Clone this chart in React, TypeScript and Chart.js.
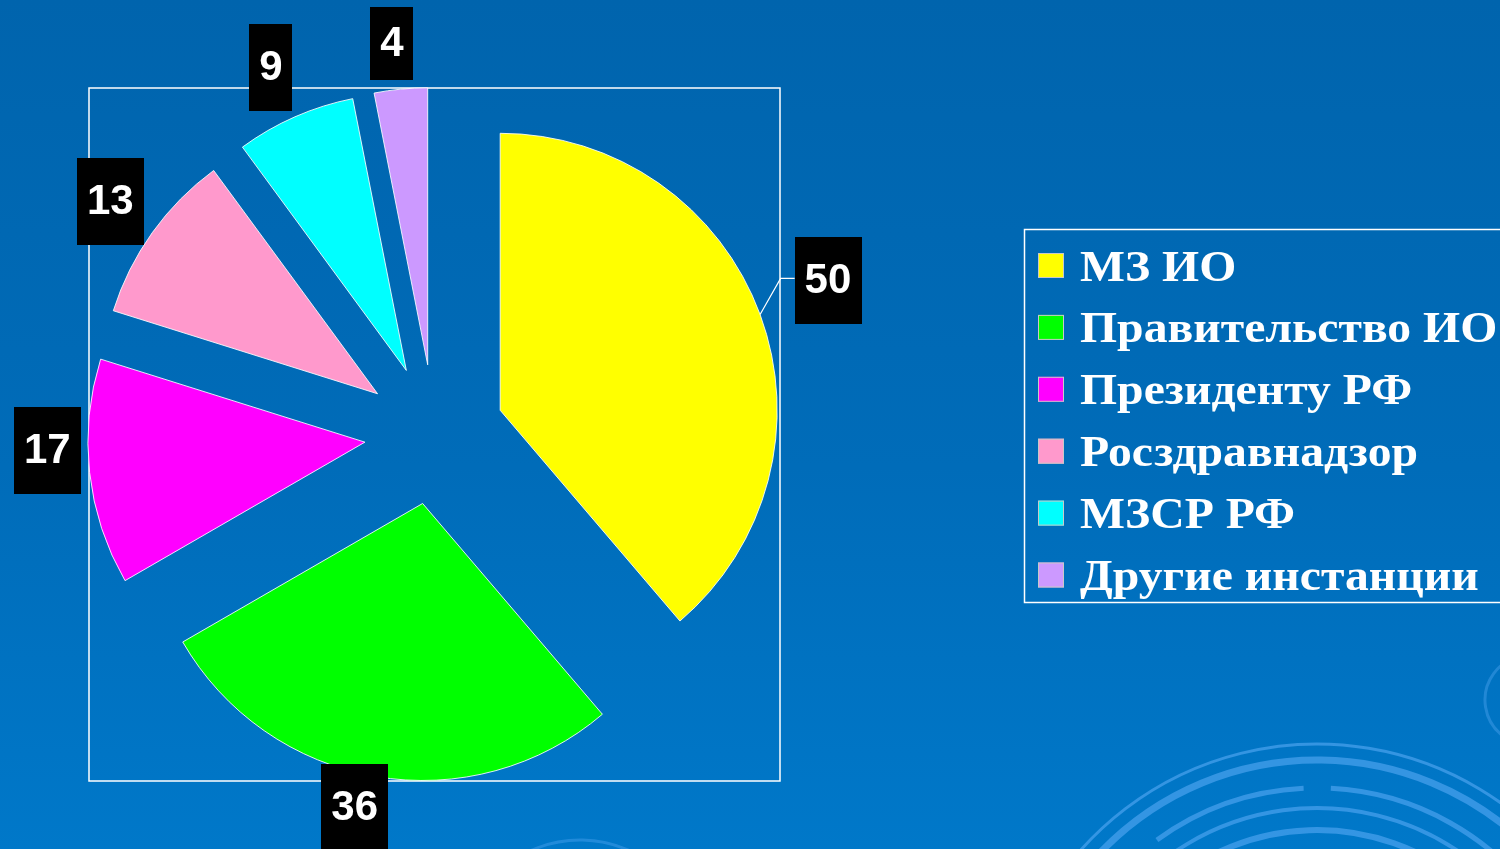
import React, { useEffect, useRef } from "react";
import { Chart, registerables } from "chart.js";

Chart.register(...registerables);

const categories = ["МЗ ИО", "Правительство ИО", "Президенту РФ", "Росздравнадзор", "МЗСР РФ", "Другие инстанции"];
const values = [50, 36, 17, 13, 9, 4];
const sliceColors = ["#FFFF00", "#00FF00", "#FF00FF", "#FF99CC", "#00FFFF", "#CC99FF"];

// label styling (gap from arc, nudge)
const labelGaps = [40, -9, 7, 7, 7, 7];
const labelNudgeX = [-3, -15, -2, -3, -2, -4];
const labelNudgeY = [0, -4, -26, -3, 1, 5];
const labelHeights = [87, 87, 87, 87, 87, 73];

const EXPLODE = 70;

const backgroundPlugin = {
  id: "bgDecor",
  beforeDraw(chart: any) {
    const { ctx, chartArea } = chart;
    ctx.save();
    ctx.strokeStyle = "rgba(95,175,250,0.55)";
    ctx.lineCap = "butt";
    const cx = 1317, cy = 1060;
    const rings: [number, number, number, number][] = [
      [316, 3, -2.6, -0.5],
      [300, 7, -2.75, -0.3],
      [272, 5, -2.2, -1.62],
      [272, 5, -1.52, -0.6],
      [252, 4, -2.9, -0.35],
      [230, 6, -2.8, -0.4],
      [205, 5, -2.7, -0.5],
    ];
    rings.forEach(([r, w, a0, a1]) => {
      ctx.lineWidth = w;
      ctx.beginPath();
      ctx.arc(cx, cy, r, a0, a1);
      ctx.stroke();
    });
    ctx.strokeStyle = "rgba(95,175,250,0.35)";
    ctx.lineWidth = 3;
    ctx.beginPath();
    ctx.arc(1530, 700, 45, 2.2, 4.4);
    ctx.stroke();
    ctx.beginPath();
    ctx.arc(580, 960, 120, -2.3, -0.8);
    ctx.stroke();
    ctx.strokeStyle = "#FFFFFF";
    ctx.lineWidth = 1.5;
    ctx.strokeRect(chartArea.left, chartArea.top, chartArea.right - chartArea.left, chartArea.bottom - chartArea.top);
    ctx.restore();
  },
};

const explodePlugin = {
  id: "explode",
  afterDatasetsUpdate(chart: any) {
    const meta = chart.getDatasetMeta(0);
    meta.data.forEach((el: any) => {
      const half = (el.startAngle + el.endAngle) / 2;
      el.x += Math.cos(half) * EXPLODE;
      el.y += Math.sin(half) * EXPLODE;
    });
  },
};

const labelPlugin = {
  id: "boxLabels",
  afterDatasetsDraw(chart: any) {
    const { ctx } = chart;
    const meta = chart.getDatasetMeta(0);
    const data = chart.data.datasets[0].data as number[];
    ctx.save();
    ctx.font = "bold 42px 'Liberation Sans', Arial, sans-serif";
    ctx.textAlign = "center";
    ctx.textBaseline = "middle";
    meta.data.forEach((el: any, i: number) => {
      const half = (el.startAngle + el.endAngle) / 2;
      const ux = Math.cos(half), uy = Math.sin(half);
      const ax = el.x + ux * el.outerRadius;
      const ay = el.y + uy * el.outerRadius;
      const text = String(data[i]);
      const tw = ctx.measureText(text).width;
      const bw = tw + 20;
      const bh = labelHeights[i] ?? 87;
      const hw = bw / 2, hh = 87 / 2;
      const edge = Math.min(Math.abs(ux) > 1e-6 ? hw / Math.abs(ux) : 1e9, Math.abs(uy) > 1e-6 ? hh / Math.abs(uy) : 1e9);
      const gap = labelGaps[i] ?? 7;
      let bx = ax + ux * (gap + edge) + (labelNudgeX[i] ?? 0);
      let by = ay + uy * (gap + edge) + (labelNudgeY[i] ?? 0);
      if (gap > 20) {
        by -= 8;
        const left = bx - hw;
        ctx.strokeStyle = "#FFFFFF";
        ctx.lineWidth = 1.2;
        ctx.beginPath();
        ctx.moveTo(ax, ay);
        ctx.lineTo(left - 14, by - 2);
        ctx.lineTo(left, by - 2);
        ctx.stroke();
      }
      ctx.fillStyle = "#000000";
      ctx.fillRect(Math.round(bx - hw), Math.round(by - bh / 2), Math.round(bw), bh);
      ctx.fillStyle = "#FFFFFF";
      ctx.fillText(text, bx, by + 1);
    });
    ctx.restore();
  },
};

const legendPlugin = {
  id: "customLegend",
  afterDraw(chart: any) {
    const { ctx } = chart;
    const labels = chart.data.labels as string[];
    const colors = chart.data.datasets[0].backgroundColor as string[];
    ctx.save();
    ctx.strokeStyle = "#FFFFFF";
    ctx.lineWidth = 1.5;
    ctx.strokeRect(1024.5, 229.5, 520, 373);
    ctx.font = "bold 45px 'Liberation Serif', 'Times New Roman', serif";
    ctx.textAlign = "left";
    ctx.textBaseline = "alphabetic";
    labels.forEach((lab, i) => {
      const cy = 265.5 + i * 61.9;
      ctx.fillStyle = colors[i];
      ctx.fillRect(1038, cy - 12.5, 26, 25);
      ctx.strokeStyle = "#C8C8C8";
      ctx.lineWidth = 1;
      ctx.strokeRect(1038.5, cy - 12, 25, 24);
      ctx.save();
      ctx.translate(1080, cy + 15);
      ctx.scale(1.06, 1);
      ctx.fillStyle = "#FFFFFF";
      ctx.fillText(lab, 0, 0);
      ctx.restore();
    });
    ctx.restore();
  },
};

export default function App() {
  const canvasRef = useRef<HTMLCanvasElement | null>(null);

  useEffect(() => {
    document.body.style.margin = "0";
    const canvas = canvasRef.current;
    if (!canvas) return;
    const chart = new Chart(canvas, {
      type: "pie",
      data: {
        labels: categories,
        datasets: [
          {
            data: values,
            backgroundColor: sliceColors,
            borderColor: "rgba(255,255,255,0.85)",
            borderWidth: 1,
          },
        ],
      },
      options: {
        responsive: false,
        animation: false,
        radius: 277,
        layout: { padding: { left: 89, top: 88, right: 720, bottom: 68 } },
        plugins: {
          legend: { display: false },
          tooltip: { enabled: false },
          title: { display: false },
        },
      } as any,
      plugins: [backgroundPlugin, explodePlugin, labelPlugin, legendPlugin],
    });
    return () => chart.destroy();
  }, []);

  return (
    <div
      style={{
        position: "fixed",
        left: 0,
        top: 0,
        width: 1500,
        height: 849,
        overflow: "hidden",
        background: "linear-gradient(to bottom, #0064AD 0%, #006CB9 55%, #0078C9 100%)",
      }}
    >
      <canvas ref={canvasRef} width={1500} height={849} style={{ width: 1500, height: 849, display: "block" }} />
    </div>
  );
}
